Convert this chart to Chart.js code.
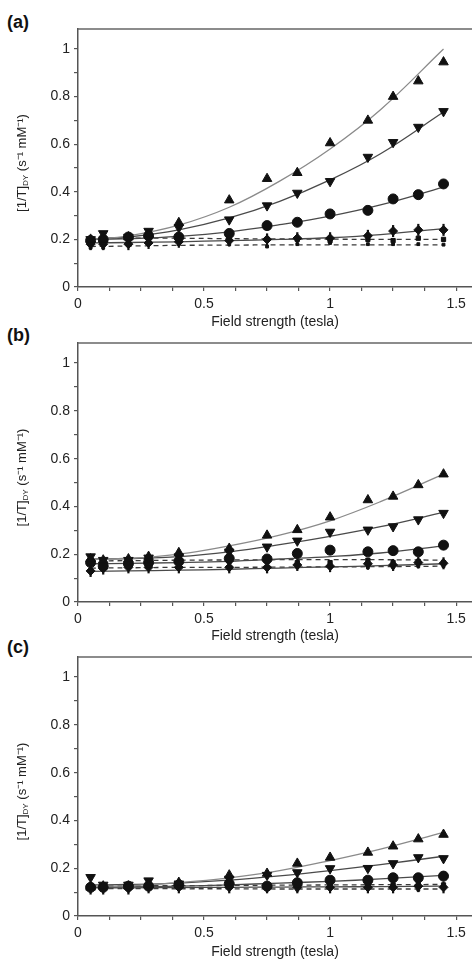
<!DOCTYPE html>
<html>
<head>
<meta charset="utf-8">
<script src="https://cdn.jsdelivr.net/npm/chart.js@4.4.1/dist/chart.umd.min.js"></script>
<style>
    body { margin: 0; background: #fff; width: 472px; height: 961px; overflow: hidden; position: relative; font-family: "Liberation Sans", Arial, sans-serif; }
    canvas { position: absolute; left: 0; }
    .lbl { position: absolute; left: 7px; font-weight: bold; font-size: 18px; line-height: 18px; color: #111; }
</style>
</head>
<body>
<div class="lbl" style="top:13px">(a)</div>
<div class="lbl" style="top:326px">(b)</div>
<div class="lbl" style="top:638px">(c)</div>
<canvas id="chartA" width="472" height="331" style="top:0px"></canvas>
<canvas id="chartB" width="472" height="325" style="top:320px"></canvas>
<canvas id="chartC" width="472" height="321" style="top:640px"></canvas>
<script>
// field strengths of the measured points and of the fitted curves (tesla)
const fieldT = [0.05, 0.1, 0.2, 0.28, 0.4, 0.6, 0.75, 0.87, 1.0, 1.15, 1.25, 1.35, 1.45];
const fitT = [0.05, 0.2, 0.4, 0.6, 0.8, 1.0, 1.2, 1.45];

// panel (a)
const aUp = [0.20, 0.20, 0.21, 0.22, 0.27, 0.365, 0.455, 0.48, 0.605, 0.70, 0.80, 0.865, 0.945];
const aUpFit = [0.20, 0.215, 0.26, 0.335, 0.445, 0.58, 0.745, 1.0];
const aDown = [0.20, 0.225, 0.21, 0.235, 0.25, 0.283, 0.342, 0.395, 0.444, 0.546, 0.608, 0.672, 0.738];
const aDownFit = [0.20, 0.21, 0.24, 0.29, 0.36, 0.45, 0.56, 0.735];
const aCirc = [0.195, 0.20, 0.21, 0.215, 0.21, 0.225, 0.258, 0.272, 0.307, 0.322, 0.37, 0.388, 0.433];
const aCircFit = [0.20, 0.203, 0.213, 0.232, 0.262, 0.298, 0.345, 0.42];
const aDiam = [0.18, 0.18, 0.18, 0.185, 0.19, 0.195, 0.20, 0.205, 0.205, 0.215, 0.235, 0.24, 0.24];
const aDiamFit = [0.185, 0.187, 0.19, 0.195, 0.20, 0.207, 0.22, 0.245];
const aSq = [0.19, 0.19, 0.20, 0.205, 0.205, 0.21, 0.20, 0.20, 0.195, 0.20, 0.195, 0.205, 0.20];
const aSqFit = [0.205, 0.205, 0.205, 0.203, 0.202, 0.201, 0.20, 0.20];
const aSm = [0.165, 0.165, 0.175, 0.18, 0.18, 0.18, 0.17, 0.18, 0.185, 0.18, 0.18, 0.18, 0.178];
const aSmFit = [0.17, 0.172, 0.175, 0.176, 0.177, 0.177, 0.177, 0.177];

// panel (b)
const bUp = [0.18, 0.175, 0.18, 0.19, 0.206, 0.224, 0.279, 0.302, 0.355, 0.427, 0.442, 0.49, 0.535];
const bUpFit = [0.18, 0.182, 0.20, 0.235, 0.28, 0.34, 0.42, 0.535];
const bDown = [0.19, 0.175, 0.175, 0.185, 0.19, 0.21, 0.231, 0.256, 0.293, 0.302, 0.316, 0.345, 0.372];
const bDownFit = [0.18, 0.182, 0.19, 0.21, 0.24, 0.275, 0.315, 0.375];
const bCirc = [0.165, 0.15, 0.16, 0.165, 0.17, 0.182, 0.18, 0.203, 0.217, 0.21, 0.215, 0.21, 0.238];
const bCircFit = [0.16, 0.162, 0.165, 0.17, 0.18, 0.19, 0.205, 0.235];
const bDiam = [0.13, 0.14, 0.145, 0.145, 0.145, 0.145, 0.145, 0.155, 0.15, 0.16, 0.155, 0.165, 0.162];
const bDiamFit = [0.128, 0.13, 0.133, 0.137, 0.142, 0.147, 0.152, 0.16];
const bSq = [0.17, 0.16, 0.17, 0.17, 0.175, 0.17, 0.17, 0.165, 0.165, 0.175, 0.165, 0.17, 0.165];
const bSqFit = [0.172, 0.173, 0.175, 0.176, 0.177, 0.177, 0.177, 0.175];
const bSm = [0.14, 0.14, 0.145, 0.145, 0.145, 0.14, 0.14, 0.145, 0.145, 0.145, 0.145, 0.15, 0.15];
const bSmFit = [0.142, 0.143, 0.145, 0.145, 0.146, 0.147, 0.148, 0.15];

// panel (c)
const cUp = [0.12, 0.125, 0.125, 0.13, 0.14, 0.171, 0.178, 0.22, 0.245, 0.266, 0.292, 0.322, 0.341];
const cUpFit = [0.125, 0.127, 0.14, 0.16, 0.19, 0.232, 0.28, 0.35];
const cDown = [0.162, 0.13, 0.13, 0.148, 0.135, 0.155, 0.171, 0.182, 0.199, 0.20, 0.22, 0.245, 0.241];
const cDownFit = [0.13, 0.132, 0.138, 0.15, 0.168, 0.19, 0.215, 0.25];
const cCirc = [0.12, 0.12, 0.125, 0.125, 0.13, 0.135, 0.125, 0.139, 0.15, 0.15, 0.16, 0.16, 0.167];
const cCircFit = [0.12, 0.122, 0.125, 0.13, 0.138, 0.145, 0.155, 0.17];
const cDiam = [0.115, 0.115, 0.115, 0.12, 0.12, 0.12, 0.12, 0.12, 0.12, 0.12, 0.12, 0.125, 0.12];
const cDiamFit = [0.118, 0.118, 0.119, 0.12, 0.121, 0.122, 0.123, 0.125];
const cSq = [0.125, 0.125, 0.125, 0.13, 0.13, 0.13, 0.13, 0.13, 0.13, 0.13, 0.13, 0.135, 0.13];
const cSqFit = [0.125, 0.126, 0.127, 0.128, 0.129, 0.13, 0.131, 0.132];
const cSm = [0.115, 0.115, 0.11, 0.115, 0.115, 0.115, 0.11, 0.11, 0.115, 0.115, 0.115, 0.11, 0.115];
const cSmFit = [0.115, 0.115, 0.114, 0.114, 0.113, 0.113, 0.113, 0.113];

const FONT = '"Liberation Sans", Arial, sans-serif';

function pts(xs, ys) {
    return xs.map((x, i) => ({ x: x, y: ys[i] }));
}

function fitLine(ys, color, dashed) {
    return {
        data: pts(fitT, ys),
        showLine: true,
        pointRadius: 0,
        borderColor: color,
        borderWidth: 1.3,
        borderDash: dashed ? [5, 4] : [],
        tension: 0.4,
        order: 2
    };
}

function marks(ys, style, r, rot, bw) {
    return {
        data: pts(fieldT, ys),
        showLine: false,
        pointStyle: style,
        pointRadius: r,
        rotation: rot || 0,
        backgroundColor: '#111',
        borderColor: '#111',
        borderWidth: bw || 1,
        order: 1
    };
}

// top frame line plus the y title with its DY subscript
const framePlugin = {
    id: 'frame',
    afterDraw(chart) {
        const { ctx, chartArea: a } = chart;
        ctx.save();
        ctx.strokeStyle = '#666';
        ctx.lineWidth = 1.5;
        ctx.beginPath();
        ctx.moveTo(a.left, a.top);
        ctx.lineTo(chart.width, a.top);
        ctx.stroke();

        ctx.translate(22, (a.top + a.bottom) / 2 + 5);
        ctx.rotate(-Math.PI / 2);
        ctx.fillStyle = '#222';
        ctx.textBaseline = 'middle';
        const parts = [
            ['[1/T]', '13px ' + FONT, 0],
            ['DY', '8px ' + FONT, 4],
            [' (s\u207B\u00B9 mM\u207B\u00B9)', '13px ' + FONT, 0]
        ];
        let total = 0;
        parts.forEach(p => { ctx.font = p[1]; total += ctx.measureText(p[0]).width; });
        let x = -total / 2;
        parts.forEach(p => {
            ctx.font = p[1];
            ctx.fillText(p[0], x, p[2]);
            x += ctx.measureText(p[0]).width;
        });
        ctx.restore();
    }
};

function makePanel(id, padTop, axisH, s) {
    new Chart(document.getElementById(id), {
        type: 'scatter',
        data: {
            datasets: [
                fitLine(s.upFit, '#8a8a8a', false),
                fitLine(s.downFit, '#4a4a4a', false),
                fitLine(s.circFit, '#4a4a4a', false),
                fitLine(s.diamFit, '#4a4a4a', false),
                fitLine(s.sqFit, '#3a3a3a', true),
                fitLine(s.smFit, '#3a3a3a', true),
                marks(s.up, 'triangle', 5.5),
                marks(s.down, 'triangle', 5.5, 180),
                marks(s.circ, 'circle', 5),
                marks(s.diam, 'rectRot', 4.5),
                marks(s.diam, 'line', 6, 90, 2.2),
                marks(s.sq, 'rect', 3),
                marks(s.sm, 'rect', 2)
            ]
        },
        options: {
            responsive: false,
            animation: false,
            layout: { autoPadding: false, padding: { top: padTop, left: 0, right: 0, bottom: 0 } },
            plugins: { legend: { display: false }, tooltip: { enabled: false } },
            scales: {
                x: {
                    type: 'linear',
                    min: 0,
                    max: 1.563,
                    afterFit: sc => { sc.height = axisH; sc.paddingRight = 0; },
                    grid: { drawOnChartArea: false, drawTicks: true, tickLength: 4, color: '#555', lineWidth: 1.2 },
                    border: { display: true, color: '#555', width: 1.5 },
                    ticks: {
                        stepSize: 0.125,
                        includeBounds: false,
                        autoSkip: false,
                        maxRotation: 0,
                        padding: 5,
                        color: '#222',
                        font: { family: FONT, size: 14 },
                        callback: v => Math.abs(v * 2 - Math.round(v * 2)) < 1e-6 ? String(Math.round(v * 2) / 2) : ''
                    },
                    title: { display: true, text: 'Field strength (tesla)', color: '#222', font: { family: FONT, size: 14 }, padding: 0 }
                },
                y: {
                    min: 0,
                    max: 1.084,
                    afterFit: sc => { sc.width = 78; },
                    grid: { drawOnChartArea: false, drawTicks: true, tickLength: 4, color: '#555', lineWidth: 1.2 },
                    border: { display: true, color: '#555', width: 1.5 },
                    ticks: {
                        stepSize: 0.1,
                        includeBounds: false,
                        autoSkip: false,
                        padding: 4,
                        color: '#222',
                        font: { family: FONT, size: 14 },
                        callback: v => {
                            const k = Math.round(v * 10);
                            return k % 2 === 0 ? String(k / 10) : '';
                        }
                    }
                }
            }
        },
        plugins: [framePlugin]
    });
}

makePanel('chartA', 29, 44, {
    up: aUp, upFit: aUpFit, down: aDown, downFit: aDownFit, circ: aCirc, circFit: aCircFit,
    diam: aDiam, diamFit: aDiamFit, sq: aSq, sqFit: aSqFit, sm: aSm, smFit: aSmFit
});
makePanel('chartB', 23, 43, {
    up: bUp, upFit: bUpFit, down: bDown, downFit: bDownFit, circ: bCirc, circFit: bCircFit,
    diam: bDiam, diamFit: bDiamFit, sq: bSq, sqFit: bSqFit, sm: bSm, smFit: bSmFit
});
makePanel('chartC', 17, 45, {
    up: cUp, upFit: cUpFit, down: cDown, downFit: cDownFit, circ: cCirc, circFit: cCircFit,
    diam: cDiam, diamFit: cDiamFit, sq: cSq, sqFit: cSqFit, sm: cSm, smFit: cSmFit
});
</script>
</body>
</html>
